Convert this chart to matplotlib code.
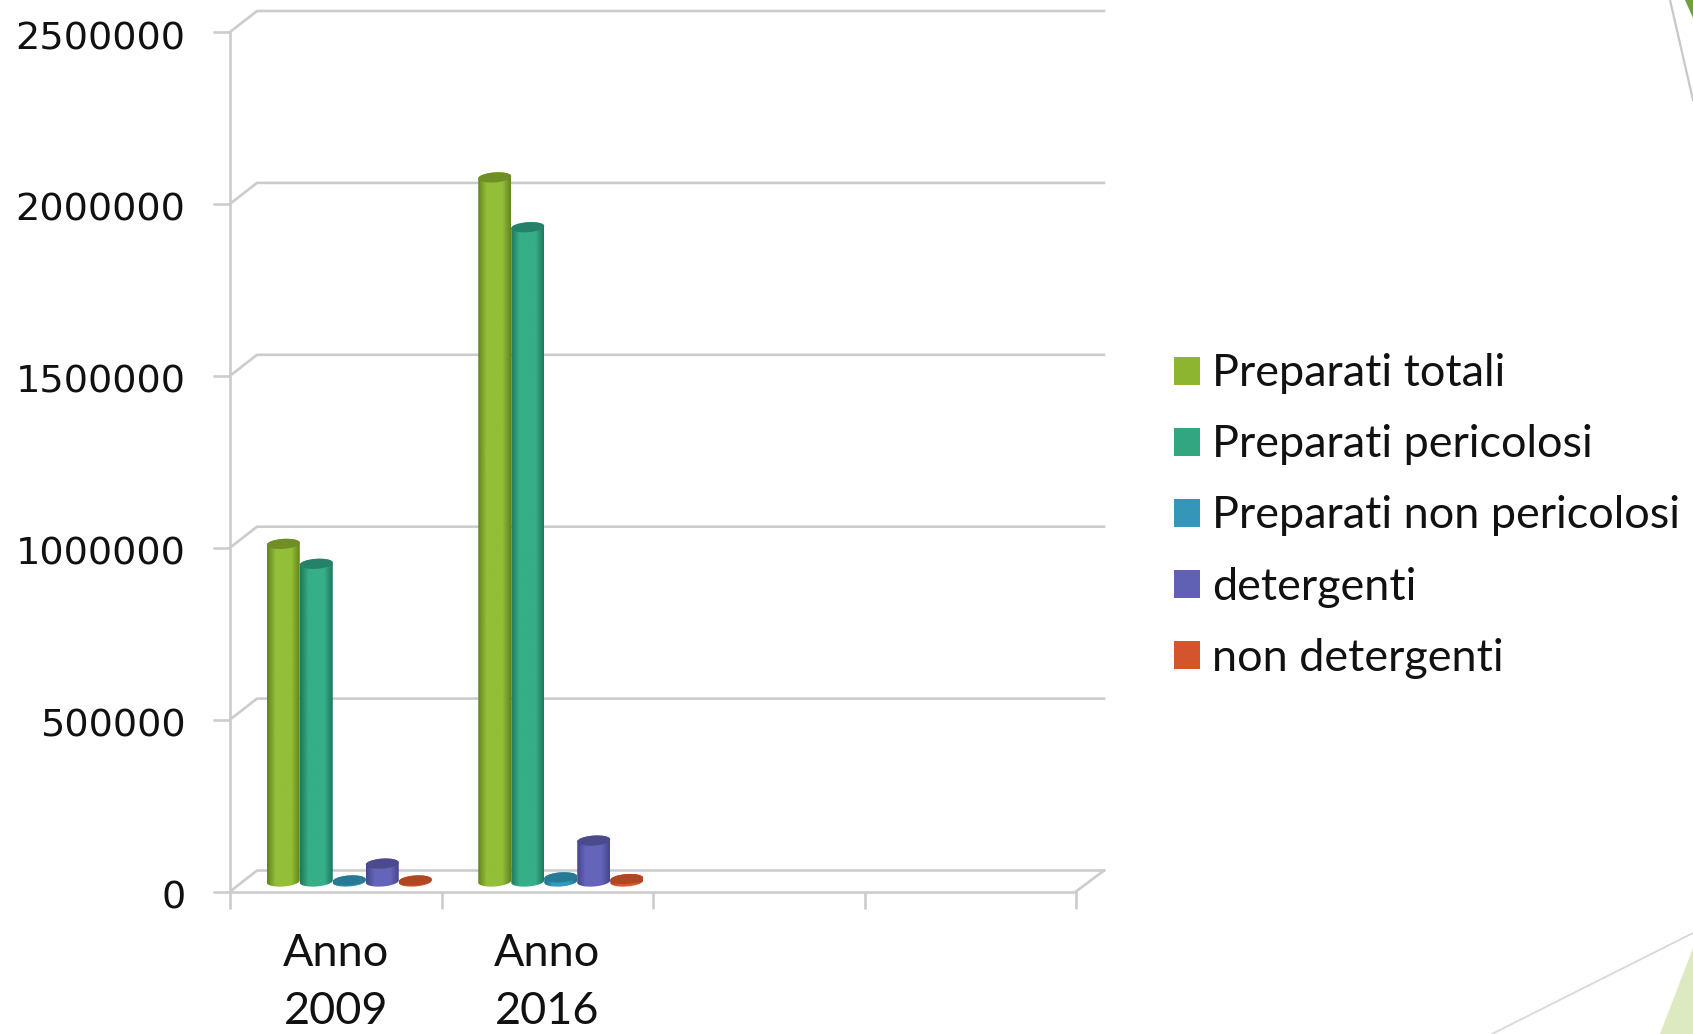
import numpy as np
import matplotlib
matplotlib.use("Agg")
import matplotlib.pyplot as plt
from matplotlib.colors import LinearSegmentedColormap
from matplotlib.patches import Ellipse, Patch, Polygon
from matplotlib.path import Path
from matplotlib.lines import Line2D
from matplotlib.transforms import Affine2D, IdentityTransform

# dati
anni = ["Anno\n2009", "Anno\n2016"]
serie = ["Preparati totali", "Preparati pericolosi", "Preparati non pericolosi", "detergenti", "non detergenti"]
preparati_totali = [982000, 2048000]
preparati_pericolosi = [924000, 1903000]
preparati_non_pericolosi = [3000, 12000]
detergenti = [52000, 119000]
non_detergenti = [3000, 7000]
valori = [preparati_totali, preparati_pericolosi, preparati_non_pericolosi, detergenti, non_detergenti]
tick_y = [0, 500000, 1000000, 1500000, 2000000, 2500000]

# colori: centro, bordo e coperchio del cilindro
col_centro = ["#93be38", "#36ae87", "#3499bd", "#6464ba", "#de5a2c"]
col_bordo = ["#64831f", "#1f7660", "#1f6f8a", "#46468c", "#a84420"]
col_top = ["#6f8f24", "#26816a", "#277a94", "#4a4a8c", "#ae4722"]
col_legenda = ["#8db52f", "#32a681", "#3596b9", "#6060b5", "#d4552b"]
grigio = "#cccccc"
spessore = 1.9

W, H = 1693, 1034
fig = plt.figure(figsize=(W / 100, H / 100), dpi=100, facecolor="white")

# sfondo della diapositiva, in pixel
bg = fig.add_axes([0, 0, 1, 1], zorder=0)
bg.set_xlim(0, W)
bg.set_ylim(H, 0)
bg.axis("off")
bg.add_patch(Polygon([(1660, 1034), (1693, 948), (1693, 1034)], color="#dde9c0", lw=0))
bg.add_patch(Polygon([(1685, 0), (1693, 0), (1693, 18)], color="#6fa040", lw=0))
bg.plot([1492, 1693], [1034, 933], color="#d9d9d9", lw=1.3)
bg.plot([1670, 1693], [0, 100], color="#c8c8c8", lw=1.6)

# assi frontali del grafico 3D
left, right, top, bottom = 230, 1076, 32, 891.5
ax = fig.add_axes([left / W, 1 - bottom / H, (right - left) / W, (bottom - top) / H], zorder=1)
ax.patch.set_alpha(0)
ax.set_autoscale_on(False)
ax.set_xlim(0, 4)
ax.set_ylim(0, 2500000)
for s in ["top", "right"]:
    ax.spines[s].set_visible(False)
for s in ["left", "bottom"]:
    ax.spines[s].set_color(grigio)
    ax.spines[s].set_linewidth(spessore)

ax.set_yticks(tick_y)
ax.set_yticklabels([str(v) for v in tick_y], fontsize=27.5, family="DejaVu Sans", color="#111111")
ax.set_xticks(range(5))
ax.set_xticklabels([])
ax.set_xticks([0.5, 1.5], minor=True)
ax.set_xticklabels(anni, minor=True, fontsize=32.4, family="Lato", color="#111111", linespacing=1.5)
ax.tick_params(axis="y", length=12, width=spessore, color=grigio, pad=20)
ax.tick_params(axis="x", which="major", length=12, width=spessore, color=grigio)
ax.tick_params(axis="x", which="minor", length=0, pad=30)
for lab in ax.get_yticklabels():
    lab.set_transform(lab.get_transform() + Affine2D().translate(0, -3))

# parete di fondo: griglia e diagonali
fondo = Affine2D().translate(27, 21)
fondo_dx = Affine2D().translate(28, 21)
for v in tick_y:
    p0 = ax.transData.transform((0, v))
    p1 = fondo.transform(p0)
    p2 = fondo_dx.transform(ax.transData.transform((4, v)))
    fig.add_artist(Line2D([p0[0], p1[0], p2[0]], [p0[1], p1[1], p2[1]], color=grigio, lw=spessore,
                          transform=IdentityTransform(), zorder=0.5))
p3 = ax.transData.transform((4, 0))
p4 = fondo_dx.transform(p3)
fig.add_artist(Line2D([p3[0], p4[0]], [p3[1], p4[1]], color=grigio, lw=spessore,
                      transform=IdentityTransform(), zorder=0.5))

# cilindri, spostati a meta della profondita
prof = Affine2D().translate(13.5, 10)
larg = 0.156
semi_h = 5
pend = np.tan(np.radians(4))


def cilindro(x, val, i):
    xa, ya = prof.transform(ax.transData.transform((x, 0)))
    xb, yb = prof.transform(ax.transData.transform((x, val)))
    a = larg / 2 * (right - left) / 4
    t1 = np.radians(np.linspace(180, 360, 40))
    t2 = np.radians(np.linspace(0, 180, 40))
    xs = np.r_[xa + a * np.cos(t1), xb + a * np.cos(t2)]
    ys = np.r_[ya + semi_h * np.sin(t1) + pend * a * np.cos(t1),
               yb + semi_h * np.sin(t2) + pend * a * np.cos(t2)]
    profilo = Path(np.column_stack([xs, ys]))

    cmap = LinearSegmentedColormap.from_list(
        "c", [col_bordo[i], col_centro[i], col_centro[i], col_centro[i], col_bordo[i]])
    im = ax.imshow(np.linspace(0, 1, 64).reshape(1, -1), cmap=cmap, aspect="auto", interpolation="bilinear",
                   extent=(x - larg / 2, x + larg / 2, -20000, val + 20000), zorder=3)
    im.set_transform(ax.transData + prof)
    im.set_clip_path(profilo, IdentityTransform())
    fig.add_artist(Ellipse((xb, yb), 2 * a, 2 * semi_h, angle=4, facecolor=col_top[i], edgecolor="none",
                           transform=IdentityTransform(), zorder=4))


for g in range(len(anni)):
    for i in range(len(serie)):
        cilindro(g + 0.5 + (i - 2) * larg, valori[i][g], i)

ax.set_xlim(0, 4)
ax.set_ylim(0, 2500000)

# legenda
maniglie = [Patch(facecolor=c, edgecolor="none") for c in col_legenda]
fig.legend(maniglie, serie, loc="center left", bbox_to_anchor=(1133.5 / W, 1 - 516 / H), frameon=False,
           prop={"family": "Lato", "size": 32.4}, labelspacing=0.667, handlelength=0.58, handleheight=0.58,
           handletextpad=0.27, labelcolor="#111111")

fig.savefig("out.png", dpi=100, facecolor="white")
